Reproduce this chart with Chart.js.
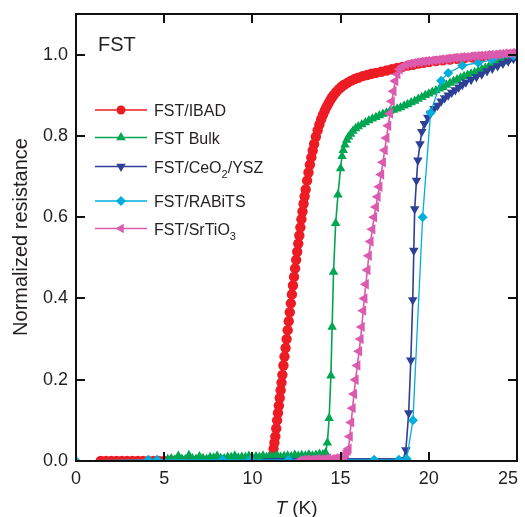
<!DOCTYPE html>
<html><head><meta charset="utf-8">
<style>html,body{margin:0;padding:0;background:#fff}canvas{display:block}</style>
<script src="https://cdn.jsdelivr.net/npm/chart.js@4"></script>
</head><body>
<canvas id="c" width="525" height="517" style="width:525px;height:517px"></canvas>
<script>
const xTicks=[0,5,10,15,20,25];
const yTicks=[0,0.2,0.4,0.6,0.8,1.0];
const legendNames=[["FST/IBAD"],["FST Bulk"],["FST/CeO","2","/YSZ"],["FST/RABiTS"],["FST/SrTiO","3"]];
const panelLabel="FST";
const xTitleItalic="T", xTitleRest=" (K)";
const yTitle="Normalized resistance";

// FST/IBAD (red circles)
const ibadT=[1.4,1.7,2.0,2.3,2.6,2.9,3.2,3.5,3.8,4.1,4.4,4.7,5.0,5.3,5.6,5.9,6.2,6.5,6.8,7.1,7.4,7.7,8.0,8.3,8.6,8.9,9.2,9.5,9.8,10.1,10.4,10.7,10.95,
11.1,11.15,11.2,11.25,11.3,11.35,11.4,11.45,11.5,11.55,11.6,11.65,11.7,11.76,11.82,11.88,11.94,12.0,12.06,12.12,12.18,12.24,12.3,12.36,12.42,12.48,12.54,12.6,12.66,12.72,12.78,12.84,12.9,12.96,13.02,13.1,13.18,13.26,13.34,13.42,13.5,13.6,13.7,13.8,13.9,14.0,14.1,14.2,14.3,14.4,14.5,14.6,14.75,14.9,15.05,15.2,15.4,15.6,15.8,16.0,16.25,16.5,16.75,17.0,17.3,17.6,17.9,18.2,18.5,18.8,19.1,19.4,19.7,20.0,20.4,20.8,21.2,21.6,22.0,22.5,23.0,23.5,24.0,24.5,25.0];
const ibadR=[0,0,0,0,0,0,0,0,0,0,0,0,0,0,0,0,0,0,0,0,0,0,0,0,0,0,0,0,0,0,0,0,0,
0.0,0.015,0.03,0.045,0.06,0.08,0.1,0.118,0.136,0.155,0.174,0.193,0.212,0.235,0.257,0.278,0.3,0.322,0.344,0.366,0.388,0.41,0.432,0.453,0.474,0.495,0.515,0.535,0.555,0.575,0.595,0.614,0.633,0.651,0.668,0.69,0.71,0.729,0.747,0.764,0.78,0.798,0.814,0.828,0.841,0.852,0.862,0.871,0.879,0.887,0.894,0.9,0.908,0.915,0.921,0.926,0.931,0.936,0.94,0.943,0.947,0.95,0.953,0.955,0.958,0.961,0.964,0.967,0.97,0.973,0.975,0.978,0.98,0.982,0.984,0.986,0.988,0.99,0.991,0.993,0.995,0.996,0.998,0.999,1.0];

// FST Bulk (green triangles)
const bulkT=[5.2,5.4,5.6,5.8,6.0,6.2,6.4,6.6,6.8,7.0,7.2,7.4,7.6,7.8,8.0,8.2,8.4,8.6,8.8,9.0,9.2,9.4,9.6,9.8,10.0,10.2,10.4,10.6,10.8,11.0,11.2,11.4,11.6,11.8,12.0,12.2,12.4,12.6,12.8,13.0,13.2,13.4,13.6,13.8,14.0,
14.15,14.25,14.35,14.45,14.52,14.6,14.72,14.85,15.0,15.08,15.15,15.25,15.35,15.45,15.57,15.7,15.85,16.0,16.2,16.4,16.6,16.8,17.0,17.2,17.4,17.6,17.8,18.0,18.2,18.4,18.6,18.8,19.0,19.2,19.4,19.6,19.8,20.0,20.2,20.4,20.6,20.8,21.0,21.2,21.4,21.6,21.8,22.0,22.2,22.4,22.6,22.8,23.0,23.2,23.4,23.6,23.8,24.0,24.2,24.4,24.6,24.8,25.0];
const bulkR=[0.004,0.006,0.003,0.012,0.005,0.004,0.014,0.006,0.005,0.011,0.007,0.005,0.009,0.008,0.012,0.007,0.006,0.01,0.009,0.013,0.008,0.01,0.009,0.012,0.008,0.011,0.01,0.013,0.009,0.012,0.011,0.014,0.01,0.012,0.013,0.011,0.015,0.012,0.014,0.013,0.016,0.013,0.015,0.017,0.016,
0.02,0.045,0.105,0.21,0.33,0.465,0.585,0.655,0.72,0.75,0.765,0.778,0.79,0.798,0.805,0.812,0.818,0.823,0.828,0.833,0.838,0.842,0.846,0.85,0.854,0.857,0.861,0.864,0.867,0.87,0.874,0.878,0.882,0.886,0.891,0.895,0.9,0.904,0.908,0.912,0.916,0.92,0.925,0.93,0.935,0.939,0.943,0.947,0.95,0.953,0.956,0.96,0.964,0.967,0.971,0.974,0.977,0.98,0.983,0.986,0.989,0.992,0.996];

// FST/CeO2/YSZ (blue down triangles)
const ceoT=[10.85,11.1,11.35,11.6,11.85,12.1,12.35,12.6,12.85,13.1,13.35,13.6,13.85,14.1,14.35,14.6,14.85,15.1,15.35,15.6,15.85,16.1,16.35,16.6,16.85,17.1,17.35,17.6,17.85,18.1,18.35,18.55,
18.7,18.86,18.98,19.09,19.15,19.2,19.3,19.38,19.5,19.6,19.75,19.94,20.1,20.3,20.5,20.7,20.9,21.1,21.3,21.5,21.7,21.9,22.1,22.4,22.7,23.0,23.3,23.6,23.9,24.2,24.5,24.8,25.0];
const ceoR=[0,0,0,0,0,0,0,0,0,0,0,0,0,0,0,0,0,0,0,0,0,0,0,0,0,0,0,0,0,0,0,0.003,
0.027,0.118,0.248,0.396,0.518,0.62,0.69,0.74,0.78,0.81,0.83,0.845,0.855,0.867,0.875,0.885,0.893,0.9,0.907,0.913,0.92,0.926,0.932,0.938,0.945,0.952,0.96,0.966,0.972,0.978,0.984,0.99,0.993];

// FST/RABiTS (cyan diamonds)
const rabT=[0,4.1,4.6,8.3,9.9,12.05,16.9,18.3,18.75,19.1,19.65,20.1,20.7,21.1,21.9,22.8,23.6,24.8];
const rabR=[0,0.003,0.003,0.003,0.003,0.003,0.003,0.003,0.005,0.1,0.6,0.857,0.936,0.955,0.973,0.98,0.988,0.998];

// FST/SrTiO3 (magenta left triangles)
const stoT=[12.7,12.9,13.1,13.3,13.5,13.7,13.9,14.1,14.3,14.5,14.7,14.9,15.05,15.2,15.3,15.4,
15.45,15.52,15.6,15.68,15.76,15.85,15.95,16.05,16.13,16.2,16.28,16.35,16.43,16.52,16.6,16.7,16.8,16.9,17.0,17.1,17.2,17.3,17.4,17.5,17.6,17.7,17.8,17.9,18.0,18.1,18.22,18.35,18.5,18.7,18.9,19.1,19.3,19.5,19.7,19.9,20.1,20.3,20.5,20.7,20.9,21.1,21.3,21.5,21.7,21.9,22.1,22.3,22.5,22.7,22.9,23.1,23.3,23.5,23.7,23.9,24.1,24.3,24.5,24.7,24.9,25.0];
const stoR=[0.002,0.003,0.004,0.003,0.004,0.005,0.004,0.005,0.006,0.005,0.007,0.008,0.01,0.012,0.018,0.025,
0.03,0.06,0.095,0.13,0.165,0.2,0.235,0.27,0.3,0.33,0.37,0.4,0.435,0.47,0.505,0.54,0.57,0.6,0.625,0.65,0.675,0.705,0.735,0.765,0.795,0.825,0.855,0.885,0.91,0.935,0.952,0.964,0.971,0.975,0.978,0.979,0.981,0.982,0.983,0.984,0.985,0.986,0.987,0.988,0.989,0.99,0.991,0.992,0.993,0.994,0.994,0.995,0.996,0.997,0.997,0.998,0.999,1.0,1.0,1.001,1.002,1.003,1.003,1.004,1.005,1.006];

const colors=["#ED1C24","#00A651","#2E3F97","#00AEDB","#DB5BAE"];
const styles=[
 {pointStyle:'circle',rotation:0,radius:5.2,bw:2},
 {pointStyle:'triangle',rotation:0,radius:5.5,bw:1.6},
 {pointStyle:'triangle',rotation:180,radius:5.5,bw:1.6},
 {pointStyle:'rectRot',rotation:0,radius:5,bw:1.3},
 {pointStyle:'triangle',rotation:-90,radius:6,bw:1.6}
];
const legendRadius=[4.5,5.5,5.5,5,5.5];
function pts(T,R){return T.map((t,i)=>({x:t,y:R[i]}));}
const allData=[pts(ibadT,ibadR),pts(bulkT,bulkR),pts(ceoT,ceoR),pts(rabT,rabR),pts(stoT,stoR)];
const drawOrder=[4,3,2,1,0];
const FONT="'Liberation Sans', Arial, Helvetica, sans-serif";
const TXT="#231F20";

const datasets=allData.map((d,i)=>({
 label:legendNames[i].join(''),
 data:d,showLine:true,
 borderColor:colors[i],backgroundColor:colors[i],
 borderWidth:styles[i].bw,
 pointStyle:styles[i].pointStyle,pointRotation:styles[i].rotation,
 pointRadius:styles[i].radius,pointBorderWidth:0,
 pointBackgroundColor:colors[i],pointBorderColor:colors[i],
 order:drawOrder[i],clip:0,tension:0
}));

const deco={id:'deco',afterDraw(chart){
 const ctx=chart.ctx,a=chart.chartArea,xs=chart.scales.x,ys=chart.scales.y;
 ctx.save();
 ctx.strokeStyle='#111';ctx.lineWidth=2;
 ctx.strokeRect(a.left,a.top,a.right-a.left,a.bottom-a.top);
 ctx.beginPath();
 const tl=9;
 xTicks.forEach(v=>{const p=Math.round(xs.getPixelForValue(v));
   if(v>xTicks[0]&&v<xTicks[xTicks.length-1]){ctx.moveTo(p,a.bottom);ctx.lineTo(p,a.bottom-tl);ctx.moveTo(p,a.top);ctx.lineTo(p,a.top+tl);}});
 yTicks.forEach(v=>{const p=Math.round(ys.getPixelForValue(v));
   if(v>yTicks[0]){ctx.moveTo(a.left,p);ctx.lineTo(a.left+tl,p);ctx.moveTo(a.right,p);ctx.lineTo(a.right-tl,p);}});
 ctx.stroke();
 ctx.fillStyle=TXT;ctx.font='18px '+FONT;ctx.textAlign='center';ctx.textBaseline='alphabetic';
 xTicks.forEach(v=>{const s=String(v);const w=ctx.measureText(s).width;
   let p=xs.getPixelForValue(v);p=Math.min(p,chart.width-7-w/2);ctx.fillText(s,p,484);});
 ctx.font='20px '+FONT;ctx.textAlign='left';
 ctx.fillText(panelLabel,98,51);
 const rows=[110,137.5,166.5,201,228.5];
 rows.forEach((y,i)=>{
   ctx.strokeStyle=colors[i];ctx.lineWidth=1.6;
   ctx.beginPath();ctx.moveTo(95,y);ctx.lineTo(147,y);ctx.stroke();
   ctx.fillStyle=colors[i];
   Chart.helpers.drawPoint(ctx,{pointStyle:styles[i].pointStyle,rotation:styles[i].rotation,radius:legendRadius[i],borderWidth:0},121,y);
   ctx.fillStyle=TXT;
   let x=154;const parts=legendNames[i];
   parts.forEach((s,k)=>{
     const sub=(k%2===1);
     ctx.font=(sub?'11px ':'16px ')+FONT;
     ctx.fillText(s,x,y+6+(sub?5:0));
     x+=ctx.measureText(s).width;
   });
 });
 ctx.fillStyle=TXT;
 ctx.font='italic 19px '+FONT;const w1=ctx.measureText(xTitleItalic).width;
 ctx.font='19px '+FONT;const w2=ctx.measureText(xTitleRest).width;
 const cx=(a.left+a.right)/2;let sx=cx-(w1+w2)/2;
 ctx.font='italic 19px '+FONT;ctx.fillText(xTitleItalic,sx,514);
 ctx.font='19px '+FONT;ctx.fillText(xTitleRest,sx+w1,514);
 ctx.translate(27,237);ctx.rotate(-Math.PI/2);
 ctx.font='20px '+FONT;ctx.textAlign='center';
 ctx.fillText(yTitle,0,0);
 ctx.restore();
}};

function zeroPad(s){s.paddingLeft=0;s.paddingRight=0;s.paddingTop=0;s.paddingBottom=0;}

new Chart(document.getElementById('c'),{
 type:'scatter',
 data:{datasets},
 options:{
  responsive:false,devicePixelRatio:1,animation:false,
  layout:{padding:{top:14,right:8,left:0,bottom:0}},
  plugins:{legend:{display:false},tooltip:{enabled:false}},
  scales:{
   x:{type:'linear',min:0,max:25,
      afterFit(s){s.height=56;zeroPad(s);},
      afterBuildTicks(s){s.ticks=xTicks.map(v=>({value:v}));},
      grid:{display:false,drawTicks:false},border:{display:false},
      ticks:{display:false}},
   y:{type:'linear',min:0,max:1.1,
      afterFit(s){s.width=76;zeroPad(s);},
      afterBuildTicks(s){s.ticks=yTicks.map(v=>({value:v}));},
      grid:{display:false,drawTicks:false},border:{display:false},
      ticks:{padding:8,color:TXT,font:{size:18,family:FONT},callback:v=>v.toFixed(1)}}
  }
 },
 plugins:[deco]
});
</script>
</body></html>
